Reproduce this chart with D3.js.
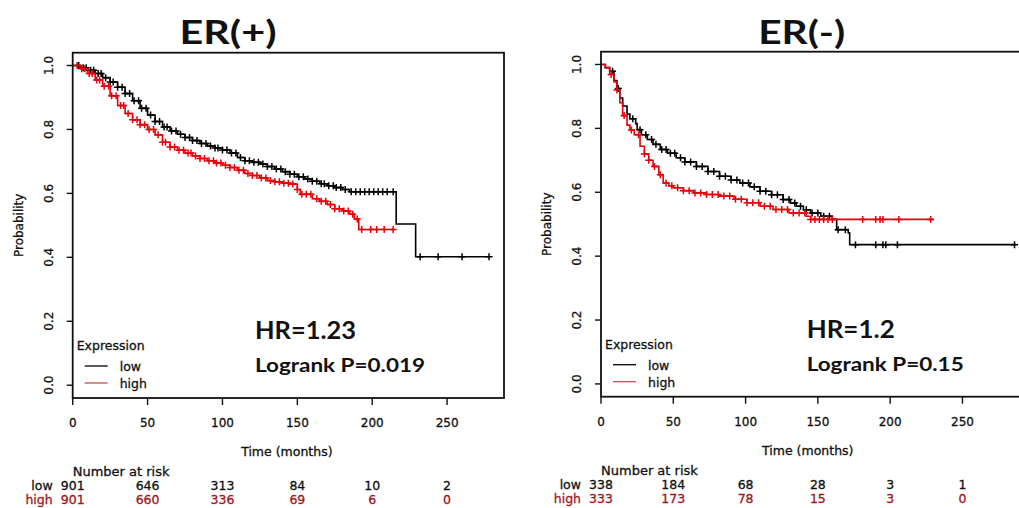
<!DOCTYPE html>
<html>
<head>
<meta charset="utf-8">
<script src="https://cdn.jsdelivr.net/npm/d3@7"></script>
<style>
  html, body { margin: 0; padding: 0; background: #fff; }
  svg { display: block; }
  .small { font-family: 'DejaVu Sans', sans-serif; fill: #111; stroke-width: 0.3; }
  .big { font-family: Lato, 'Open Sans', sans-serif; font-weight: 700; fill: #111; }
</style>
</head>
<body>
<div class="chart"></div>
<script>
// KM curves: [months, survival probability]
const erPosLow = [[0,1],[5,0.993],[10,0.985],[15,0.975],[20,0.962],[25,0.948],[30,0.932],[35,0.912],[40,0.89],
  [45,0.866],[50,0.845],[55,0.825],[60,0.808],[65,0.795],[70,0.785],[75,0.775],[80,0.765],[85,0.756],[90,0.748],
  [95,0.742],[100,0.736],[105,0.726],[110,0.712],[115,0.702],[120,0.697],[125,0.692],[130,0.684],[135,0.676],
  [140,0.668],[145,0.66],[150,0.652],[155,0.645],[160,0.638],[165,0.63],[170,0.624],[175,0.618],[180,0.612],
  [185,0.605],[216,0.504],[229,0.402],[278,0.402]];
const erPosHigh = [[0,1],[5,0.99],[10,0.975],[15,0.955],[20,0.935],[25,0.905],[30,0.875],[35,0.85],[40,0.83],
  [45,0.815],[50,0.8],[55,0.783],[60,0.76],[65,0.745],[70,0.735],[75,0.726],[80,0.717],[85,0.709],[90,0.702],
  [95,0.695],[100,0.688],[105,0.681],[110,0.672],[115,0.662],[120,0.656],[125,0.648],[130,0.64],[135,0.636],
  [140,0.632],[145,0.629],[150,0.612],[152,0.597],[160,0.583],[165,0.575],[170,0.565],[175,0.552],[180,0.545],
  [185,0.535],[188,0.52],[191,0.487],[215,0.487]];
const erNegLow = [[0,1],[3,0.99],[6,0.979],[9,0.95],[11,0.925],[13,0.895],[15,0.87],[18,0.845],[20,0.83],
  [24,0.815],[25,0.796],[28,0.78],[32,0.765],[36,0.75],[41,0.734],[46,0.722],[52,0.708],[58,0.695],[66,0.681],
  [74,0.665],[82,0.65],[90,0.638],[96,0.629],[103,0.617],[110,0.603],[118,0.592],[126,0.577],[131,0.566],
  [135,0.556],[140,0.545],[145,0.535],[152,0.525],[160,0.515],[163,0.483],[171,0.473],[172,0.436],[287,0.436]];
const erNegHigh = [[0,1],[3,0.99],[6,0.969],[9,0.945],[11,0.92],[13,0.88],[15,0.84],[18,0.81],[20,0.795],
  [23,0.78],[27,0.744],[30,0.72],[33,0.7],[36,0.681],[40,0.655],[43,0.629],[47,0.62],[50,0.614],[57,0.605],
  [64,0.598],[73,0.593],[82,0.588],[92,0.578],[101,0.567],[110,0.556],[119,0.546],[130,0.535],[142,0.525],
  [145,0.515],[230,0.515]];

// censoring times (months)
const erPosLowCens = [4,7,9,12,14,17,19,22,25,27,30,33,35,38,41,44,46,49,52,55,58,61,63,66,69,72,75,78,80,83,86,
  89,92,95,97,100,103,106,109,112,115,118,121,124,127,130,133,136,139,142,145,148,151,154,157,160,163,166,168,
  171,174,176,179,182,186,189,192,195,198,201,204,207,210,214,232,244,260,278];
const erPosHighCens = [3,6,8,11,13,16,18,21,24,26,29,32,34,37,40,43,45,48,51,54,57,60,62,65,68,71,74,77,79,82,
  85,88,91,94,96,99,102,105,108,111,114,117,120,123,126,129,132,135,138,141,144,147,150,153,156,159,163,166,
  169,172,175,178,181,184,187,190,193,199,203,208,214];
const erNegLowCens = [8,12,22,27,31,35,38,42,45,48,51,55,58,62,66,70,74,78,82,86,90,94,98,102,106,110,114,118,
  122,126,130,134,138,142,146,150,154,158,164,169,176,190,195,197,205,286];
const erNegHighCens = [7,11,16,21,26,30,33,37,41,45,49,53,57,61,65,69,73,77,81,85,89,93,97,101,105,109,113,117,
  121,125,129,133,137,141,145,148,151,154,157,160,181,190,193,195,206,228];

// number at risk
const riskTimes = [0, 50, 100, 150, 200, 250];
const erPosRiskLow = [901, 646, 313, 84, 10, 2];
const erPosRiskHigh = [901, 660, 336, 69, 6, 0];
const erNegRiskLow = [338, 184, 68, 28, 3, 1];
const erNegRiskHigh = [333, 173, 78, 15, 3, 0];

const xTicks = [0, 50, 100, 150, 200, 250];
const yTicks = [0, 0.2, 0.4, 0.6, 0.8, 1.0];

const width = 1019;
const height = 508;
const lowColor = '#000';
const highColor = '#e8000b';
const riskHighColor = '#a3141c';

const svg = d3
  .select('.chart')
  .append('svg')
  .attr('width', width)
  .attr('height', height);

const panels = [
  {
    x0: 72.7, x1: 504, y0: 52.7, y1: 398, xMax: 288,
    title: 'ER(+)', titleX: 228, titleW: 97,
    hr: 'HR=1.23', hrW: 101, pval: 'Logrank P=0.019', pW: 170, statX: 255,
    low: erPosLow, high: erPosHigh, lowCens: erPosLowCens, highCens: erPosHighCens,
    riskLow: erPosRiskLow, riskHigh: erPosRiskHigh
  },
  {
    x0: 601, x1: 1020.3, y0: 51.7, y1: 396.7, xMax: 290,
    title: 'ER(-)', titleX: 801.7, titleW: 87,
    hr: 'HR=1.2', hrW: 88, pval: 'Logrank P=0.15', pW: 157, statX: 806.7,
    low: erNegLow, high: erNegHigh, lowCens: erNegLowCens, highCens: erNegHighCens,
    riskLow: erNegRiskLow, riskHigh: erNegRiskHigh
  }
];

panels.forEach(drawPanel);

function drawPanel(p) {
  const g = svg.append('g');
  const x = d3.scaleLinear().domain([0, p.xMax]).range([p.x0, p.x1]);
  const y = d3.scaleLinear().domain([-0.04, 1.04]).range([p.y1, p.y0]);

  const line = d3
    .line()
    .x(d => x(d[0]))
    .y(d => y(d[1]))
    .curve(d3.curveStepAfter);

  const bis = d3.bisector(d => d[0]).right;
  const survAt = (curve, t) => curve[Math.max(0, bis(curve, t) - 1)][1];

  const series = [
    { curve: p.low, cens: p.lowCens, color: lowColor },
    { curve: p.high, cens: p.highCens, color: highColor }
  ];

  series.forEach(s => {
    g.append('path')
      .attr('d', line(s.curve))
      .attr('fill', 'none')
      .attr('stroke', s.color)
      .attr('stroke-width', 1.6);
    g.selectAll(null)
      .data(s.cens)
      .enter()
      .append('path')
      .attr('d', t => {
        const cx = x(t);
        const cy = y(survAt(s.curve, t));
        return `M${cx - 3.5},${cy}H${cx + 3.5}M${cx},${cy - 3.5}V${cy + 3.5}`;
      })
      .attr('stroke', s.color)
      .attr('stroke-width', 1.5);
  });

  // box
  g.append('rect')
    .attr('x', p.x0)
    .attr('y', p.y0)
    .attr('width', p.x1 - p.x0)
    .attr('height', p.y1 - p.y0)
    .attr('fill', 'none')
    .attr('stroke', '#111')
    .attr('stroke-width', 1.8);

  // y axis
  const yAxis = g.append('g');
  yAxis.selectAll('.yt')
    .data(yTicks)
    .enter()
    .append('line')
    .attr('x1', p.x0 - 6).attr('x2', p.x0)
    .attr('y1', d => y(d)).attr('y2', d => y(d))
    .attr('stroke', '#111').attr('stroke-width', 1.4);
  yAxis.selectAll('.yl')
    .data(yTicks)
    .enter()
    .append('text')
    .attr('class', 'small')
    .attr('font-size', 12)
    .attr('text-anchor', 'middle')
    .attr('stroke', '#111')
    .attr('transform', d => `translate(${p.x0 - 20},${y(d)}) rotate(-90)`)
    .text(d => d3.format('.1f')(d));
  g.append('text')
    .attr('class', 'small')
    .attr('font-size', 12)
    .attr('text-anchor', 'middle')
    .attr('stroke', '#111')
    .attr('transform', `translate(${p.x0 - 50},${(p.y0 + p.y1) / 2}) rotate(-90)`)
    .text('Probability');

  // x axis
  g.selectAll('.xt')
    .data(xTicks)
    .enter()
    .append('line')
    .attr('x1', d => x(d)).attr('x2', d => x(d))
    .attr('y1', p.y1).attr('y2', p.y1 + 7)
    .attr('stroke', '#111').attr('stroke-width', 1.4);
  g.selectAll('.xl')
    .data(xTicks)
    .enter()
    .append('text')
    .attr('class', 'small')
    .attr('font-size', 12)
    .attr('text-anchor', 'middle')
    .attr('stroke', '#111')
    .attr('x', d => x(d))
    .attr('y', p.y1 + 29)
    .text(d => d);
  g.append('text')
    .attr('class', 'small')
    .attr('font-size', 12.5)
    .attr('text-anchor', 'middle')
    .attr('stroke', '#111')
    .attr('x', x(143))
    .attr('y', p.y1 + 58)
    .text('Time (months)');

  // number at risk
  g.append('text')
    .attr('class', 'small')
    .attr('font-size', 13)
    .attr('stroke', '#111')
    .attr('x', p.x0)
    .attr('y', p.y1 + 78)
    .text('Number at risk');
  const rows = [
    { name: 'low', vals: p.riskLow, color: '#111', dy: 92 },
    { name: 'high', vals: p.riskHigh, color: riskHighColor, dy: 106 }
  ];
  rows.forEach(r => {
    g.append('text')
      .attr('class', 'small')
      .attr('font-size', 12.5)
      .attr('text-anchor', 'end')
      .attr('x', p.x0 - 20)
      .attr('y', p.y1 + r.dy)
      .attr('stroke', r.color)
      .style('fill', r.color)
      .text(r.name);
    g.selectAll(null)
      .data(r.vals)
      .enter()
      .append('text')
      .attr('class', 'small')
      .attr('font-size', 12.5)
      .attr('text-anchor', 'middle')
      .attr('x', (d, i) => x(riskTimes[i]))
      .attr('y', p.y1 + r.dy)
      .attr('stroke', r.color)
      .style('fill', r.color)
      .text(d => d);
  });

  // legend
  const lg = g.append('g').attr('transform', `translate(${p.x0 + 4},${p.y1 - 48})`);
  lg.append('text')
    .attr('class', 'small')
    .attr('font-size', 12.5)
    .attr('stroke', '#111')
    .attr('x', 0)
    .attr('y', 0)
    .text('Expression');
  [['low', lowColor], ['high', '#c85050']].forEach((d, i) => {
    lg.append('line')
      .attr('x1', 8).attr('x2', 31)
      .attr('y1', 16 + i * 17).attr('y2', 16 + i * 17)
      .attr('stroke', d[1]).attr('stroke-width', 1.3);
    lg.append('text')
      .attr('class', 'small')
      .attr('font-size', 12.5)
      .attr('stroke', '#111')
      .attr('x', 43)
      .attr('y', 21 + i * 17)
      .text(d[0]);
  });

  // stats
  g.append('text')
    .attr('class', 'big')
    .attr('font-size', 25)
    .attr('x', p.statX)
    .attr('y', p.y1 - 59)
    .attr('textLength', p.hrW)
    .attr('lengthAdjust', 'spacingAndGlyphs')
    .text(p.hr);
  g.append('text')
    .attr('class', 'big')
    .attr('font-size', 19)
    .attr('x', p.statX)
    .attr('y', p.y1 - 26)
    .attr('textLength', p.pW)
    .attr('lengthAdjust', 'spacingAndGlyphs')
    .text(p.pval);

  // title
  g.append('text')
    .attr('class', 'big')
    .attr('font-size', 32)
    .attr('text-anchor', 'middle')
    .attr('x', p.titleX)
    .attr('y', 43.5)
    .attr('textLength', p.titleW)
    .attr('lengthAdjust', 'spacingAndGlyphs')
    .text(p.title);
}
</script>
</body>
</html>
